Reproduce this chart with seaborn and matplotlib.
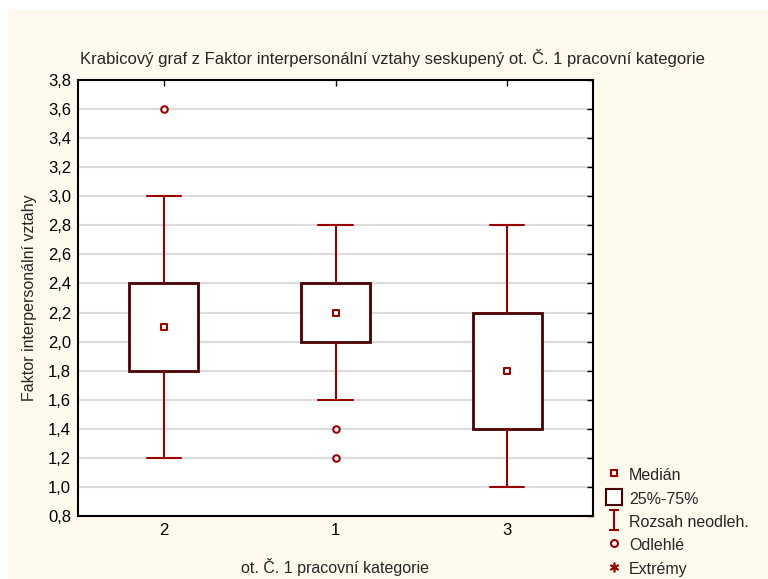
import numpy as np
import pandas as pd
import matplotlib
matplotlib.use("Agg")
import matplotlib.pyplot as plt
import seaborn as sns
from matplotlib.lines import Line2D
from matplotlib.patches import Rectangle
from matplotlib.path import Path
from matplotlib.ticker import FuncFormatter, MultipleLocator

# ---- data ----
categories = ["2", "1", "3"]
medians = [2.1, 2.2, 1.8]
q1 = [1.8, 2.0, 1.4]
q3 = [2.4, 2.4, 2.2]
whisker_low = [1.2, 1.6, 1.0]
whisker_high = [3.0, 2.8, 2.8]
outlier_cat = ["2", "1", "1"]
outlier_val = [3.6, 1.4, 1.2]

title = "Krabicový graf z Faktor interpersonální vztahy seskupený ot. Č. 1 pracovní kategorie"
xlabel = "ot. Č. 1 pracovní kategorie"
ylabel = "Faktor interpersonální vztahy"
legend_labels = ["Medián", "25%-75%", "Rozsah neodleh.", "Odlehlé", "Extrémy"]

# ---- style ----
sns.set_style("white")
plt.rcParams['font.family'] = ['Liberation Sans', 'DejaVu Sans']

RED = '#990000'
DARK = '#4A0000'
CREAM = '#FFF9EE'

W, H = 768, 579
fig = plt.figure(figsize=(W / 100, H / 100), dpi=100, facecolor='white')
fig.patches.append(Rectangle((8 / W, 0), 1, (H - 10) / H, transform=fig.transFigure,
                             facecolor=CREAM, edgecolor='none', zorder=-10))
ax = fig.add_axes([78 / W, 63 / H, 515 / W, 436 / H])
ax.set_facecolor('white')

pos = {c: i for i, c in enumerate(categories)}
stats = [dict(med=m, q1=a, q3=b, whislo=lo, whishi=hi, fliers=[], label=c)
         for c, m, a, b, lo, hi in zip(categories, medians, q1, q3, whisker_low, whisker_high)]
ax.bxp(stats, positions=list(range(len(categories))), widths=0.4, capwidths=0.2,
       showfliers=False, patch_artist=True,
       boxprops=dict(facecolor='white', edgecolor=DARK, linewidth=2),
       whiskerprops=dict(color=RED, linewidth=1.5),
       capprops=dict(color=RED, linewidth=1.5),
       medianprops=dict(visible=False), zorder=3)

med_df = pd.DataFrame({"x": [pos[c] for c in categories], "y": medians})
sns.scatterplot(data=med_df, x="x", y="y", marker='s', s=22, facecolor='white',
                edgecolor=RED, linewidth=1.5, zorder=5, ax=ax, legend=False)
out_df = pd.DataFrame({"x": [pos[c] for c in outlier_cat], "y": outlier_val})
sns.scatterplot(data=out_df, x="x", y="y", marker='o', s=22, facecolor='white',
                edgecolor=RED, linewidth=1.5, zorder=5, ax=ax, legend=False)

ax.set_xlim(-0.5, len(categories) - 0.5)
ax.set_ylim(0.8, 3.8)
ax.set_xticks(range(len(categories)))
ax.set_xticklabels(categories)
ax.yaxis.set_major_locator(MultipleLocator(0.2))
ax.yaxis.set_major_formatter(FuncFormatter(lambda v, p: f"{v:.1f}".replace('.', ',')))
ax.yaxis.grid(True, color='#DCDCDC', linewidth=1.5)
ax.xaxis.grid(False)
ax.set_axisbelow(True)
ax.tick_params(direction='in', top=True, right=True, length=4, width=1,
               labelsize=12, colors='black', pad=5)
for s in ax.spines.values():
    s.set_color('black')
    s.set_linewidth(1.5)
ax.set_xlabel("")
ax.set_ylabel("")

fig.text(392 / W, 1 - 58 / H, title, ha='center', va='center', fontsize=12)
fig.text(335 / W, 1 - 567 / H, xlabel, ha='center', va='center', fontsize=11.5)
fig.text(30 / W, 1 - 298 / H, ylabel, ha='center', va='center', rotation=90, fontsize=11.5)

# legend
ipath = Path([(-0.5, 1), (0.5, 1), (0, 1), (0, -1), (-0.5, -1), (0.5, -1)],
             [Path.MOVETO, Path.LINETO, Path.MOVETO, Path.LINETO, Path.MOVETO, Path.LINETO])
handles = [
    Line2D([], [], marker='s', linestyle='none', markersize=5, markerfacecolor='white',
           markeredgecolor=RED, markeredgewidth=1.5),
    Line2D([], [], marker='s', linestyle='none', markersize=11, markerfacecolor='white',
           markeredgecolor=DARK, markeredgewidth=1.5),
    Line2D([], [], marker=ipath, linestyle='none', markersize=14, markerfacecolor='none',
           markeredgecolor=RED, markeredgewidth=1.5),
    Line2D([], [], marker='o', linestyle='none', markersize=5, markerfacecolor='white',
           markeredgecolor=RED, markeredgewidth=1.5),
    Line2D([], [], marker=(6, 2, 0), linestyle='none', markersize=7,
           markeredgecolor=RED, markeredgewidth=1.2),
]
fig.legend(handles, legend_labels, loc='upper left', bbox_to_anchor=(606 / W, 1 - 466 / H),
           frameon=False, fontsize=11.5, handlelength=1.0, handletextpad=0.45,
           handleheight=1.3, labelspacing=0.38, borderaxespad=0, borderpad=0)

fig.savefig("out.png", dpi=100, facecolor=fig.get_facecolor())
